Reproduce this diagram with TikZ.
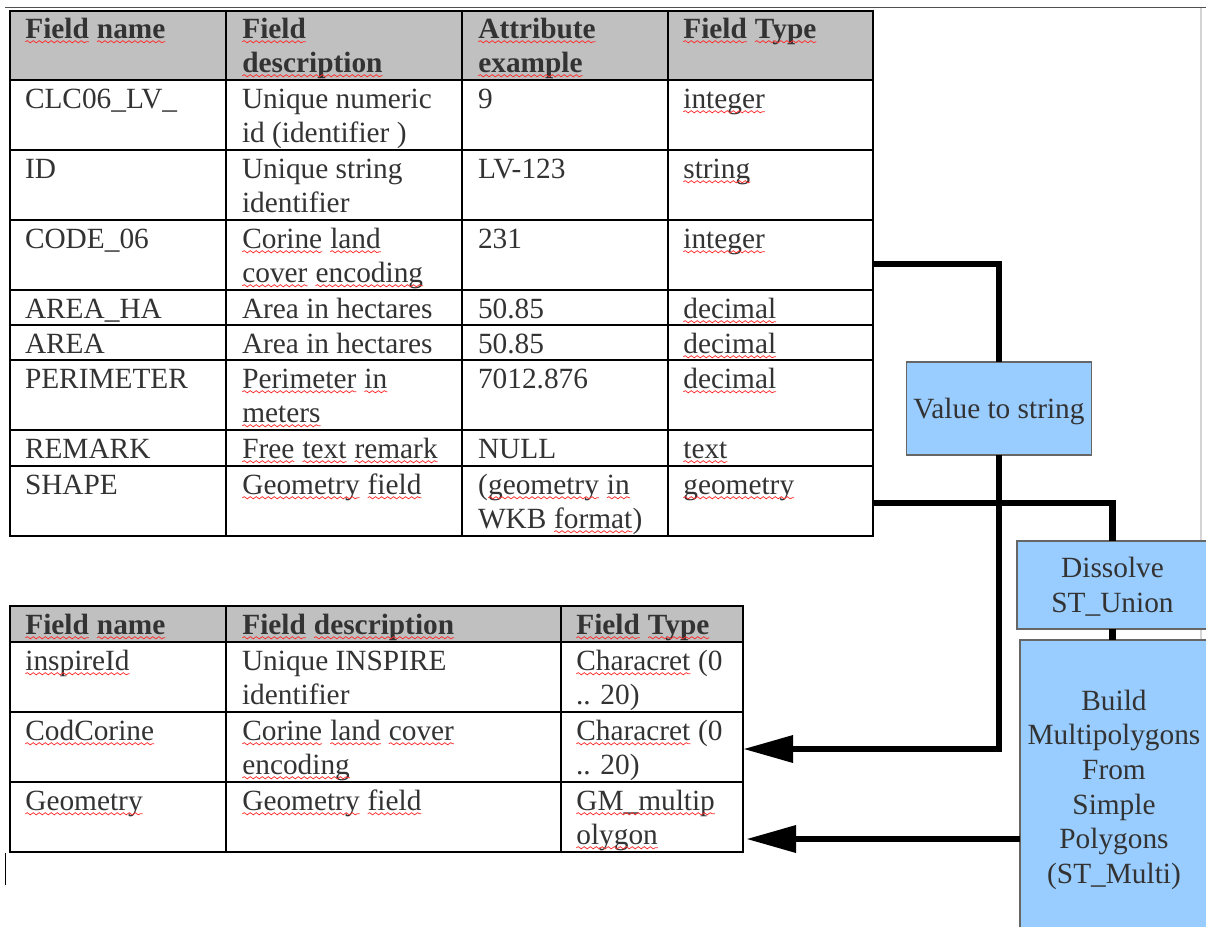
\documentclass[tikz,border=0pt]{standalone}
\usepackage{fontspec}
\setmainfont{Liberation Serif}
\usetikzlibrary{arrows.meta,decorations.pathmorphing}

\definecolor{ink}{HTML}{333333}
\definecolor{hdr}{HTML}{C0C0C0}
\definecolor{proc}{HTML}{99CCFF}
\definecolor{procedge}{HTML}{666666}
\definecolor{spell}{HTML}{FF2A2A}
\definecolor{pageline}{HTML}{505050}
\definecolor{pageedge}{HTML}{D4D4D4}

% word with a red wavy underline
\newcommand\sq[1]{\tikz[baseline=(w.base),x=1pt,y=1pt]{%
  \node[anchor=center,inner sep=0pt,outer sep=0pt,draw=none,fill=none](w){#1};%
  \draw[spell,line width=0.55pt,decorate,decoration={snake,amplitude=0.8pt,segment length=4.5pt}]
    ([yshift=-2.8pt]w.base west)--([yshift=-2.8pt]w.base east);}}

\tikzset{
  cellfont/.style={font=\fontsize{22}{25.5}\selectfont},
  cell/.style={cellfont,anchor=base west,inner sep=0pt,outer sep=0pt,text=ink},
  hcell/.style={cell,font=\fontsize{22}{25.5}\selectfont\bfseries},
  grid/.style={line width=1.9pt,black},
  procbox/.style={draw=procedge,fill=proc,line width=1.1pt,inner sep=0pt,outer sep=0pt,
    font=\fontsize{22}{26}\selectfont,text=ink,align=center,text depth=0pt},
  link/.style={line width=4.9pt,black},
  tip/.style={-{Triangle[length=37.5pt,width=19.5pt]}}
}

% a table cell: name, x, baseline y, lines of text
\newcommand\cell[4]{\node[cell] (#1) at (#2,#3) {\begin{tabular}[t]{@{}l@{}}#4\end{tabular}};}
\newcommand\hcell[4]{\node[hcell] (#1) at (#2,#3) {\begin{tabular}[t]{@{}l@{}}#4\end{tabular}};}

\begin{document}
\begin{tikzpicture}[x=0.75pt,y=-0.75pt]
\useasboundingbox (0,0) rectangle (1206,926);
\clip (0,0) rectangle (1206,926);
\fill[white] (0,0) rectangle (1206,926);

% page rules
\draw[pageline,line width=1.1pt] (5,7.5) -- (1206,7.5);
\draw[pageedge,line width=1.1pt] (1201,8) -- (1201,926);
\draw[black,line width=1.1pt] (5.5,853) -- (5.5,885);

% ---------- source table ----------
\fill[hdr] (10,11) rectangle (873,80);
\foreach \yy in {80,150,220,290,325,360,430,466}
  \draw[grid] (10,\yy) -- (873,\yy);
\foreach \xx in {226,462,668}
  \draw[grid] (\xx,11) -- (\xx,536);
\draw[grid] (10,11) rectangle (873,536);

\hcell{sh1}{25}{38}{\sq{Field} \sq{name}}
\hcell{sh2}{242}{38}{\sq{Field}\\\sq{description}}
\hcell{sh3}{478}{38}{\sq{Attribute}\\\sq{example}}
\hcell{sh4}{683}{38}{\sq{Field} \sq{Type}}

\cell{sa1}{25}{108}{CLC06\_LV\_}
\cell{sa2}{242}{108}{Unique numeric\\id (identifier )}
\cell{sa3}{478}{108}{9}
\cell{sa4}{683}{108}{\sq{integer}}

\cell{sb1}{25}{178}{ID}
\cell{sb2}{242}{178}{Unique string\\identifier}
\cell{sb3}{478}{178}{LV-123}
\cell{sb4}{683}{178}{\sq{string}}

\cell{sc1}{25}{248}{CODE\_06}
\cell{sc2}{242}{248}{\sq{Corine} \sq{land}\\\sq{cover} \sq{encoding}}
\cell{sc3}{478}{248}{231}
\cell{sc4}{683}{248}{\sq{integer}}

\cell{sd1}{25}{318}{AREA\_HA}
\cell{sd2}{242}{318}{Area in hectares}
\cell{sd3}{478}{318}{50.85}
\cell{sd4}{683}{318}{\sq{decimal}}

\cell{se1}{25}{353}{AREA}
\cell{se2}{242}{353}{Area in hectares}
\cell{se3}{478}{353}{50.85}
\cell{se4}{683}{353}{\sq{decimal}}

\cell{sf1}{25}{388}{PERIMETER}
\cell{sf2}{242}{388}{\sq{Perimeter} \sq{in}\\\sq{meters}}
\cell{sf3}{478}{388}{7012.876}
\cell{sf4}{683}{388}{\sq{decimal}}

\cell{sg1}{25}{458}{REMARK}
\cell{sg2}{242}{458}{\sq{Free} \sq{text} \sq{remark}}
\cell{sg3}{478}{458}{NULL}
\cell{sg4}{683}{458}{\sq{text}}

\cell{sh1b}{25}{494}{SHAPE}
\cell{sh2b}{242}{494}{\sq{Geometry} \sq{field}}
\cell{sh3b}{478}{494}{(\sq{geometry} \sq{in}\\WKB \sq{format})}
\cell{sh4b}{683}{494}{\sq{geometry}}

% ---------- target table ----------
\fill[hdr] (10,606) rectangle (743,642);
\foreach \yy in {642,712,782}
  \draw[grid] (10,\yy) -- (743,\yy);
\foreach \xx in {226,561}
  \draw[grid] (\xx,606) -- (\xx,852);
\draw[grid] (10,606) rectangle (743,852);

\hcell{th1}{25}{634}{\sq{Field} \sq{name}}
\hcell{th2}{242}{634}{\sq{Field} \sq{description}}
\hcell{th3}{576}{634}{\sq{Field} \sq{Type}}

\cell{ta1}{25}{670}{\sq{inspireId}}
\cell{ta2}{242}{670}{Unique INSPIRE\\identifier}
\cell{ta3}{576}{670}{\sq{Characret} (0\\.. 20)}

\cell{tb1}{25}{740}{\sq{CodCorine}}
\cell{tb2}{242}{740}{\sq{Corine} \sq{land} \sq{cover}\\\sq{encoding}}
\cell{tb3}{576}{740}{\sq{Characret} (0\\.. 20)}

\cell{tc1}{25}{810}{\sq{Geometry}}
\cell{tc2}{242}{810}{\sq{Geometry} \sq{field}}
\cell{tc3}{576}{810}{\sq{GM\_multip}\\\sq{olygon}}

% ports on the table edges
\coordinate (codeout) at (873,264);
\coordinate (shapeout) at (873,503);
\coordinate (codin) at (743,749);
\coordinate (geoin) at (746,839);

% ---------- processing steps ----------
\node[procbox,minimum width=138.75pt,minimum height=69.75pt] (vts) at (999,408.5) {Value to string};
\node[procbox,minimum width=143.25pt,minimum height=66pt] (dis) at (1112.5,585) {Dissolve\\ST\_Union};
\node[procbox,minimum width=141pt,minimum height=219.75pt] (bld) at (1114,786.5)
  {Build\\Multipolygons\\From\\Simple\\Polygons\\(ST\_Multi)};

% ---------- connectors ----------
\draw[link] (codeout) -| (vts.north);
\draw[link,tip] (vts.south) |- (codin);
\draw[link] (shapeout) -| (dis.north);
\draw[link] (dis.south) -- (dis.south |- bld.north);
\draw[link,tip] (bld.west |- geoin) -- (geoin);
\end{tikzpicture}
\end{document}
